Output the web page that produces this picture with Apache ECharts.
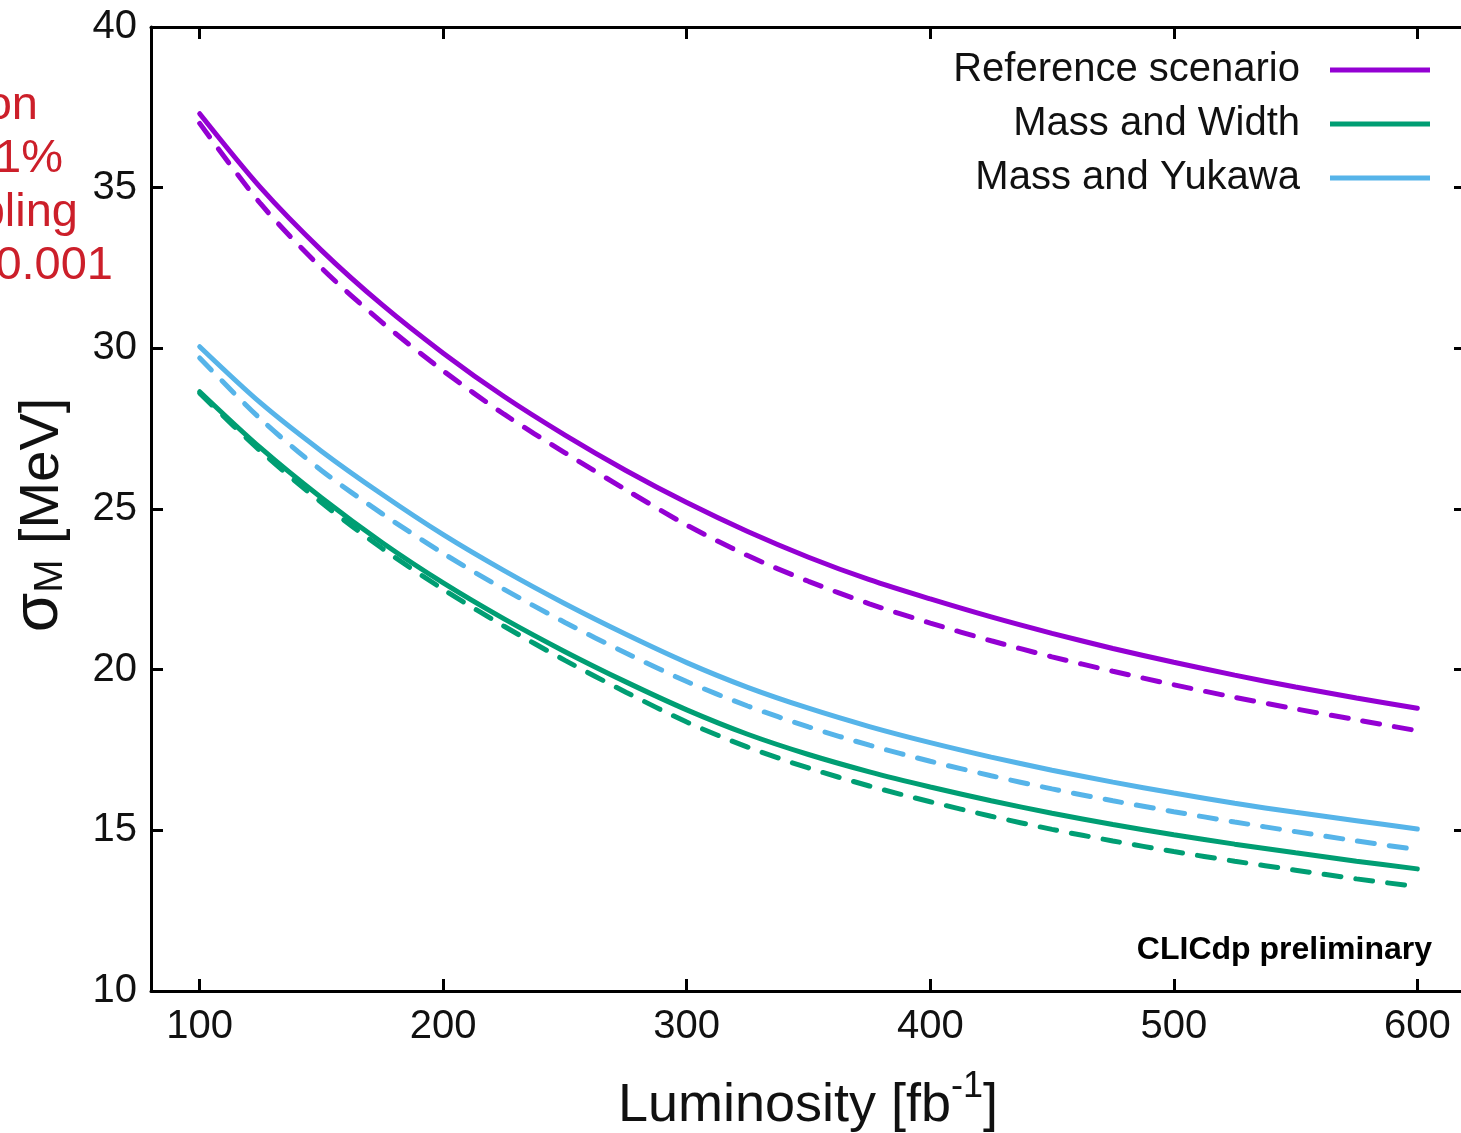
<!DOCTYPE html>
<html><head><meta charset="utf-8">
<script src="https://cdn.jsdelivr.net/npm/echarts@6/dist/echarts.min.js"></script>
<style>html,body{margin:0;padding:0;overflow:hidden;background:#fff}#c{width:1480px;height:1133px}</style>
</head><body><div id="c"></div>
<script>
// ---- data ----
const luminosity = [100,125,150,175,200,225,250,275,300,325,350,375,400,425,450,475,500,525,550,575,600];
const refScenarioSolid  = [37.3,35.0,33.05,31.35,29.85,28.5,27.3,26.2,25.2,24.3,23.5,22.8,22.2,21.64,21.13,20.66,20.23,19.83,19.46,19.12,18.8];
const refScenarioDashed = [37.0,34.5,32.5,30.8,29.3,27.95,26.75,25.6,24.5,23.55,22.75,22.05,21.45,20.9,20.4,19.95,19.53,19.14,18.78,18.44,18.1];
const massWidthSolid    = [28.65,26.9,25.35,23.95,22.7,21.58,20.56,19.62,18.75,17.99,17.36,16.82,16.35,15.92,15.53,15.18,14.86,14.57,14.3,14.04,13.8];
const massWidthDashed   = [28.6,26.8,25.2,23.77,22.5,21.35,20.29,19.3,18.37,17.59,16.94,16.38,15.89,15.44,15.03,14.67,14.34,14.04,13.76,13.49,13.25];
const massYukawaSolid   = [30.05,28.3,26.8,25.45,24.2,23.08,22.05,21.1,20.22,19.45,18.8,18.23,17.73,17.28,16.87,16.5,16.16,15.84,15.56,15.3,15.04];
const massYukawaDashed  = [29.7,27.8,26.2,24.85,23.62,22.5,21.47,20.52,19.63,18.87,18.22,17.65,17.15,16.7,16.29,15.92,15.58,15.26,14.96,14.67,14.4];
const xTicks = [100,200,300,400,500,600];
const legendNames = ['Reference scenario','Mass and Width','Mass and Yukawa'];
const redNote = ['on','1%','pling','0.001'];

const purple = '#9400d3', green = '#009e73', blue = '#56b4e9';
const FONT = '"Liberation Sans", Arial, sans-serif';

function pts(arr){ return luminosity.map((x,i)=>[x,arr[i]]); }
function line(name, arr, color, dashed, z){
  return {
    name, type:'line', data: pts(arr), smooth:0.3, symbol:'none', z: z,
    lineStyle:{color, width:5, type: dashed ? [17,15] : 'solid', cap:'round'},
    itemStyle:{color}, emphasis:{disabled:true}
  };
}

const chart = echarts.init(document.getElementById('c'), null, {renderer:'canvas'});
const tickStyle = {show:true, inside:true, length:12, lineStyle:{color:'#000', width:3}};
const axisLine = {show:true, onZero:false, lineStyle:{color:'#000', width:3}};

chart.setOption({
  animation:false,
  backgroundColor:'#fff',
  grid:{left:151, top:27, right:14, bottom:142, containLabel:false},
  legend:{
    data: legendNames.map(n=>({name:n, icon:'rect'})), orient:'vertical', align:'right', right:50, top:50, padding:0,
    itemWidth:100, itemHeight:5, itemGap:14, selectedMode:false,
    textStyle:{fontSize:40, color:'#111', fontFamily:FONT, padding:[0,25,0,0], lineHeight:40}
  },
  xAxis:[
    {type:'value', position:'bottom', min:80, max:620,
     axisLine, axisTick:Object.assign({customValues:xTicks}, tickStyle),
     axisLabel:{customValues:xTicks, fontSize:40, color:'#111', fontFamily:FONT, margin:16},
     splitLine:{show:false}},
    {type:'value', position:'top', min:80, max:620,
     axisLine, axisTick:Object.assign({customValues:xTicks}, tickStyle),
     axisLabel:{show:false}, splitLine:{show:false}}
  ],
  yAxis:[
    {type:'value', position:'left', min:10, max:40, interval:5,
     axisLine, axisTick:tickStyle,
     axisLabel:{fontSize:40, color:'#111', fontFamily:FONT, margin:14},
     splitLine:{show:false}},
    {type:'value', position:'right', min:10, max:40, interval:5,
     axisLine, axisTick:tickStyle, axisLabel:{show:false}, splitLine:{show:false}}
  ],
  series:[
    line(legendNames[0], refScenarioSolid, purple, false, 6),
    line(legendNames[0]+' (dashed)', refScenarioDashed, purple, true, 5),
    line(legendNames[1], massWidthSolid, green, false, 6),
    line(legendNames[1]+' (dashed)', massWidthDashed, green, true, 5),
    line(legendNames[2], massYukawaSolid, blue, false, 6),
    line(legendNames[2]+' (dashed)', massYukawaDashed, blue, true, 5)
  ],
  graphic:[
    {type:'text', x:1432, y:950, style:{text:'CLICdp preliminary', fontSize:32, fontWeight:'bold', fill:'#000', fontFamily:FONT, align:'right', verticalAlign:'middle'}},
    {type:'text', x:808, y:1101, style:{
      text:'{m|Luminosity [fb}{s|-1}{m|]}', align:'center', verticalAlign:'middle', fontFamily:FONT,
      rich:{m:{fontSize:54, fill:'#111', lineHeight:64, verticalAlign:'bottom', fontFamily:FONT},
            s:{fontSize:36, fill:'#111', verticalAlign:'top', fontFamily:FONT}}}},
    {type:'text', x:36, y:515, rotation:Math.PI/2, style:{
      text:'{g|σ}{b|M}{m| [MeV]}', align:'center', verticalAlign:'middle', fontFamily:FONT,
      rich:{g:{fontSize:64, fill:'#111', lineHeight:70, verticalAlign:'bottom', fontFamily:FONT},
            b:{fontSize:40, fill:'#111', verticalAlign:'bottom', fontFamily:FONT},
            m:{fontSize:56, fill:'#111', verticalAlign:'bottom', fontFamily:FONT}}}},
    {type:'text', x:38, y:106, style:{text:redNote[0], fontSize:47, fill:'#cc1f2a', fontFamily:FONT, align:'right', verticalAlign:'middle'}},
    {type:'text', x:63, y:159, style:{text:redNote[1], fontSize:47, fill:'#cc1f2a', fontFamily:FONT, align:'right', verticalAlign:'middle'}},
    {type:'text', x:78, y:213, style:{text:redNote[2], fontSize:47, fill:'#cc1f2a', fontFamily:FONT, align:'right', verticalAlign:'middle'}},
    {type:'text', x:113, y:266, style:{text:redNote[3], fontSize:47, fill:'#cc1f2a', fontFamily:FONT, align:'right', verticalAlign:'middle'}}
  ]
});
</script></body></html>
